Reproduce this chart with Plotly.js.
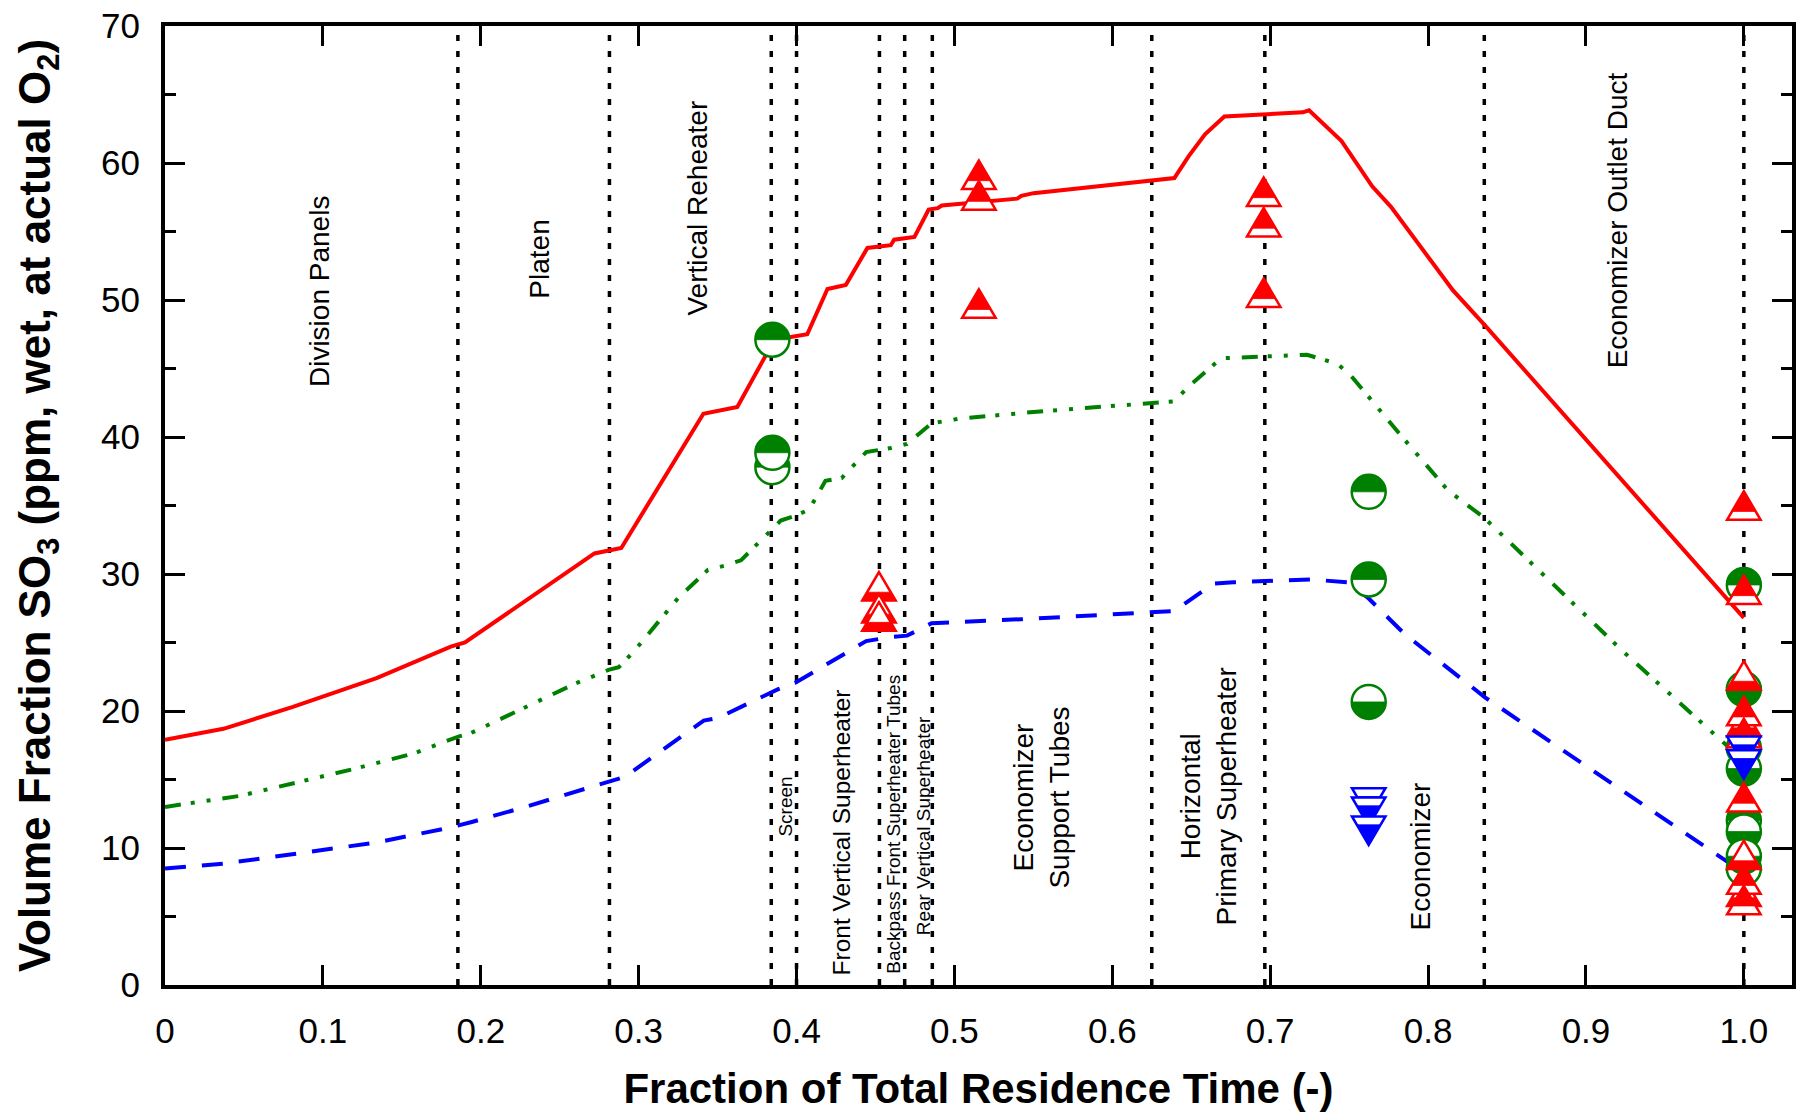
<!DOCTYPE html>
<html>
<head>
<meta charset="utf-8">
<script src="https://cdn.plot.ly/plotly-3.0.1.min.js"></script>
<style>
  html, body { margin: 0; padding: 0; background: #ffffff; }
  #chart { width: 1801px; height: 1119px; }
</style>
</head>
<body>
<div id="chart"></div>
<script>
// SO3 along the flue-gas path, as a function of the fraction of total residence time.

// Predicted SO3 profiles (three cases)
const redX = [0, 0.037, 0.081, 0.134, 0.181, 0.190, 0.272, 0.289, 0.341, 0.3625, 0.386, 0.4068, 0.4196,
  0.4312, 0.4449, 0.4597, 0.4618, 0.4747, 0.4837, 0.4894, 0.492, 0.5398, 0.5424, 0.5501, 0.6393, 0.6484,
  0.6587, 0.671, 0.7207, 0.7246, 0.7452, 0.7646, 0.7765, 0.7999, 0.8158, 0.8356, 0.8955, 1.0];
const redY = [17.9, 18.7, 20.3, 22.4, 24.7, 25.0, 31.5, 31.9, 41.7, 42.2, 47.1, 47.5, 50.8,
  51.1, 53.8, 54.0, 54.4, 54.6, 56.6, 56.7, 56.9, 57.4, 57.6, 57.8, 58.9, 60.5,
  62.1, 63.4, 63.7, 63.85, 61.6, 58.3, 56.8, 53.1, 50.7, 48.2, 40.4, 26.8];

const greenX = [0, 0.0472, 0.084, 0.1207, 0.1575, 0.1863, 0.193, 0.2598, 0.2809, 0.2874, 0.2966, 0.3254,
  0.3439, 0.3543, 0.3648, 0.39, 0.4002, 0.408, 0.4183, 0.4286, 0.4441, 0.4597, 0.47, 0.4855, 0.5036,
  0.5579, 0.6393, 0.6484, 0.669, 0.7233, 0.7425, 0.751, 0.7807, 0.8126, 0.8356, 0.923, 0.989, 1.0];
const greenY = [13.0, 13.8, 14.8, 15.8, 16.9, 18.15, 18.35, 22.0, 23.0, 23.2, 24.3, 28.3,
  30.3, 30.6, 31.0, 33.9, 34.3, 34.7, 36.8, 37.0, 38.9, 39.2, 39.5, 41.0, 41.35,
  41.9, 42.6, 43.7, 45.75, 46.0, 45.35, 44.5, 40.4, 36.1, 34.1, 24.4, 17.5, 16.6];

const blueX = [0, 0.0367, 0.084, 0.1339, 0.181, 0.1943, 0.2283, 0.2782, 0.2913, 0.3163, 0.3412, 0.3504,
  0.3648, 0.3884, 0.399, 0.4131, 0.4441, 0.4597, 0.47, 0.4855, 0.5424, 0.6393, 0.6639, 0.6768, 0.7255,
  0.749, 0.7616, 0.7853, 0.836, 0.9805, 1.0];
const blueY = [8.5, 8.85, 9.6, 10.4, 11.5, 11.9, 13.0, 14.8, 15.2, 17.25, 19.3, 19.5,
  20.3, 21.6, 22.05, 23.0, 25.1, 25.4, 25.5, 26.4, 26.7, 27.3, 29.3, 29.4, 29.6,
  29.4, 28.3, 25.6, 21.0, 9.7, 8.2];

// Measured SO3: green circles (upper half filled / lower half filled)
const circleUpperX = [0.3847, 0.3847, 0.3847, 0.7624, 0.7624, 1.0, 1.0, 1.0, 1.0];
const circleUpperY = [47.1, 37.8, 38.85, 36.0, 29.6, 29.2, 17.3, 12.0, 8.5];
const circleLowerX = [0.7624, 1.0, 1.0, 1.0, 1.0];
const circleLowerY = [20.66, 21.6, 15.8, 11.2, 9.4];

// Measured SO3: red triangles (apex filled / base filled)
const triUpperX = [0.5155, 0.5155, 0.5155, 0.6959, 0.6959, 0.6959, 1.0, 1.0, 1.0, 1.0, 1.0, 1.0, 1.0];
const triUpperY = [59.14, 57.63, 49.74, 57.9, 55.67, 50.53, 35.0, 28.85, 20.0, 18.4, 13.7, 7.7, 6.2];
const triLowerX = [0.4522, 0.4522, 0.4522, 1.0, 1.0, 1.0, 1.0];
const triLowerY = [29.1, 27.5, 26.9, 22.6, 19.2, 9.5, 6.8];

// Measured SO3: blue inverted triangles (tip filled)
const triDownX = [0.7624, 0.7624, 0.7624, 1.0, 1.0];
const triDownY = [13.33, 12.65, 11.26, 17.1, 16.1];

// Boundaries between heat-exchanger sections
const sectionBounds = [0.1855, 0.2815, 0.384, 0.400, 0.4525, 0.4685, 0.486, 0.625, 0.6966, 0.8356, 1.0];

// Tick labels
const xTickVals = [0, 0.1, 0.2, 0.3, 0.4, 0.5, 0.6, 0.7, 0.8, 0.9, 1.0];
const xTickText = ['0', '0.1', '0.2', '0.3', '0.4', '0.5', '0.6', '0.7', '0.8', '0.9', '1.0'];
const yTickVals = [0, 10, 20, 30, 40, 50, 60, 70];
const yTickText = ['0', '10', '20', '30', '40', '50', '60', '70'];

// Section names
const sectionNames = ['Division Panels', 'Platen', 'Vertical Reheater', 'Screen',
  'Front Vertical Superheater', 'Backpass Front Superheater Tubes', 'Rear Vertical Superheater',
  'Economizer<br>Support Tubes', 'Horizontal<br>Primary Superheater', 'Economizer', 'Economizer Outlet Duct'];

// ---- styling & placement ----
const FONT = 'Liberation Sans, Arial, Helvetica, sans-serif';
const RED = '#ff0000', GREEN = '#008000', BLUE = '#0000ff';

const labelPlacement = [
  {x: 0.0975, y: 50.65, size: 28},
  {x: 0.237, y: 52.96, size: 28},
  {x: 0.3375, y: 56.74, size: 28},
  {x: 0.393, y: 13.06, size: 19},
  {x: 0.4285, y: 11.1, size: 24.5},
  {x: 0.4617, y: 11.77, size: 19},
  {x: 0.4802, y: 11.6, size: 19},
  {x: 0.555, y: 13.7, size: 28},
  {x: 0.6607, y: 13.77, size: 28},
  {x: 0.795, y: 9.4, size: 28},
  {x: 0.92, y: 55.78, size: 28}
];

const annotations = sectionNames.map((t, i) => ({
  text: t, x: labelPlacement[i].x, y: labelPlacement[i].y, xref: 'x', yref: 'y',
  showarrow: false, textangle: -90, xanchor: 'center', yanchor: 'middle',
  font: {family: FONT, size: labelPlacement[i].size, color: '#000'}
}));

// marker glyphs as pixel-sized paths (y positive upwards)
const R = 17, K = 0.5523 * R;
const TW = 33.5, TH = 28.5, SPLIT = 0.707;
const f = v => v.toFixed(2);

const circleFull = `M ${f(-R)},0 C ${f(-R)},${f(K)} ${f(-K)},${f(R)} 0,${f(R)} C ${f(K)},${f(R)} ${f(R)},${f(K)} ${f(R)},0 ` +
  `C ${f(R)},${f(-K)} ${f(K)},${f(-R)} 0,${f(-R)} C ${f(-K)},${f(-R)} ${f(-R)},${f(-K)} ${f(-R)},0 Z`;
function circleHalf(s) {
  return `M ${f(-R)},0 C ${f(-R)},${f(s * K)} ${f(-K)},${f(s * R)} 0,${f(s * R)} C ${f(K)},${f(s * R)} ${f(R)},${f(s * K)} ${f(R)},0 Z`;
}
function triFull(s) {
  return `M 0,${f(s * TH / 2)} L ${f(TW / 2)},${f(-s * TH / 2)} L ${f(-TW / 2)},${f(-s * TH / 2)} Z`;
}
const ys = TH / 2 - SPLIT * TH, w2 = SPLIT * TW / 2;
function triTip(s) {
  return `M 0,${f(s * TH / 2)} L ${f(w2)},${f(s * ys)} L ${f(-w2)},${f(s * ys)} Z`;
}
function triBase(s) {
  return `M ${f(-TW / 2)},${f(-s * TH / 2)} L ${f(TW / 2)},${f(-s * TH / 2)} L ${f(w2)},${f(s * ys)} L ${f(-w2)},${f(s * ys)} Z`;
}

const shapes = [];
sectionBounds.forEach(b => shapes.push({
  type: 'line', layer: 'below', xref: 'x', yref: 'paper', x0: b, x1: b, y0: 0, y1: 1,
  line: {color: '#000', width: 3.5, dash: '6px,10px'}
}));

function addMarkers(xs, ysArr, outline, part, color) {
  xs.forEach((x, i) => {
    const base = {type: 'path', layer: 'above', xref: 'x', yref: 'y',
      xsizemode: 'pixel', ysizemode: 'pixel', xanchor: x, yanchor: ysArr[i]};
    shapes.push(Object.assign({}, base, {path: outline, fillcolor: '#ffffff', line: {color: color, width: 2.5}}));
    shapes.push(Object.assign({}, base, {path: part, fillcolor: color, line: {color: color, width: 0.8}}));
  });
}
addMarkers(circleUpperX, circleUpperY, circleFull, circleHalf(1), GREEN);
addMarkers(circleLowerX, circleLowerY, circleFull, circleHalf(-1), GREEN);
addMarkers(triLowerX, triLowerY, triFull(1), triBase(1), RED);
addMarkers(triUpperX, triUpperY, triFull(1), triTip(1), RED);
addMarkers(triDownX, triDownY, triFull(-1), triTip(-1), BLUE);

const traces = [
  {x: redX, y: redY, type: 'scatter', mode: 'lines', line: {color: RED, width: 4}, hoverinfo: 'x+y'},
  {x: greenX, y: greenY, type: 'scatter', mode: 'lines',
    line: {color: GREEN, width: 4, dash: '16px,10px,4px,12px,4px,12px'}, hoverinfo: 'x+y'},
  {x: blueX, y: blueY, type: 'scatter', mode: 'lines',
    line: {color: BLUE, width: 4, dash: '21px,16px'}, hoverinfo: 'x+y'}
];

const tickFont = {family: FONT, size: 35, color: '#000'};
const layout = {
  width: 1801, height: 1119,
  margin: {l: 165, r: 9, t: 26, b: 134, pad: 0},
  paper_bgcolor: '#ffffff', plot_bgcolor: '#ffffff',
  showlegend: false,
  xaxis: {
    range: [0, 1.0305], tickvals: xTickVals, ticktext: xTickText,
    ticks: 'inside', ticklen: 20, tickwidth: 3, tickcolor: '#000',
    showline: true, linewidth: 4, linecolor: '#000', mirror: 'allticks',
    showgrid: false, zeroline: false, tickfont: tickFont, ticklabelstandoff: 12,
    title: {text: 'Fraction of Total Residence Time (-)', standoff: 26,
      font: {family: FONT, size: 42, color: '#000', weight: 'bold'}}
  },
  yaxis: {
    range: [0, 70], tickvals: yTickVals, ticktext: yTickText,
    ticks: 'inside', ticklen: 20, tickwidth: 3, tickcolor: '#000',
    minor: {dtick: 5, ticks: 'inside', ticklen: 11, tickwidth: 3, tickcolor: '#000'},
    showline: true, linewidth: 4, linecolor: '#000', mirror: 'allticks',
    showgrid: false, zeroline: false, tickfont: tickFont, ticklabelstandoff: 14,
    title: {text: 'Volume Fraction SO<sub>3</sub> (ppm, wet, at actual O<sub>2</sub>)', standoff: 38,
      font: {family: FONT, size: 44, color: '#000', weight: 'bold'}}
  },
  shapes: shapes,
  annotations: annotations
};

Plotly.newPlot('chart', traces, layout, {displayModeBar: false, responsive: false});
</script>
</body>
</html>
